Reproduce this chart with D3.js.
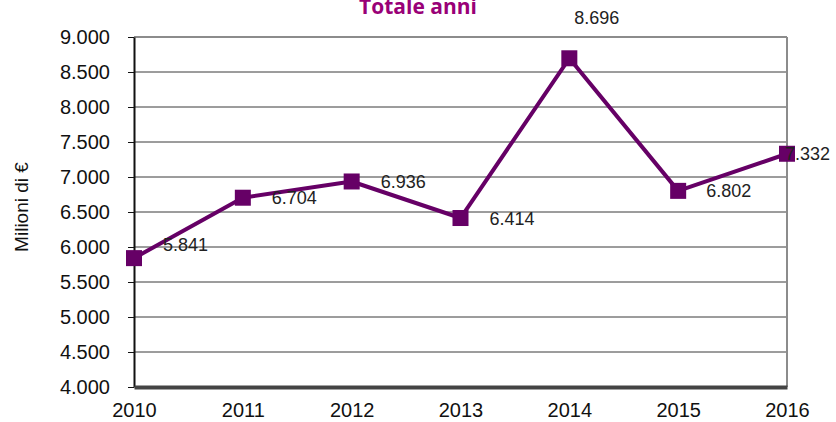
<!DOCTYPE html>
<html><head><meta charset="utf-8">
<script src="https://cdn.jsdelivr.net/npm/d3@7"></script>
<style>body{margin:0;background:#fff}svg{display:block}</style>
</head><body>
<svg id="c" width="836" height="422"></svg>
<script>
const years = ["2010","2011","2012","2013","2014","2015","2016"];
const values = [5841, 6704, 6936, 6414, 8696, 6802, 7332];
const yTicks = [4000,4500,5000,5500,6000,6500,7000,7500,8000,8500,9000];
const title = "Totale anni";
const yTitle = "Milioni di €";

const svg = d3.select("#c");
const W = 836, H = 422;
const m = {l:134, r:W-787, t:37, b:H-387};
const x = d3.scalePoint().domain(years).range([m.l, W-m.r]);
const y = d3.scaleLinear().domain([4000,9000]).range([H-m.b, m.t]);
const fmt = v => d3.format(",")(v).replace(/,/g,".");
const fmtT = v => d3.format(",.0f")(v).replace(/,/g,".");
const FF = "Liberation Sans, Arial, sans-serif";

// gridlines
svg.append("g").selectAll("line").data(yTicks.filter(t=>t>4000)).join("line")
  .attr("x1", m.l).attr("x2", W-m.r).attr("y1", d=>y(d)).attr("y2", d=>y(d))
  .attr("stroke", d=> d===9000 ? "#8c8c8c" : "#3a3a3a").attr("stroke-width", d=> d===9000 ? 2 : 1);
// right border
svg.append("line").attr("x1", W-m.r).attr("x2", W-m.r).attr("y1", m.t).attr("y2", H-m.b)
  .attr("stroke","#8c8c8c").attr("stroke-width",2);

// y axis
const ya = svg.append("g").attr("transform",`translate(${m.l},0)`)
  .call(d3.axisLeft(y).tickValues(yTicks).tickSize(6).tickSizeOuter(0).tickPadding(18).tickFormat(fmtT));
ya.select(".domain").attr("stroke","#111").attr("stroke-width",2);
ya.selectAll(".tick line").attr("stroke","#111");
ya.selectAll("text").attr("font-family",FF).attr("font-size",20).attr("fill","#111");

// x axis
const xa = svg.append("g").attr("transform",`translate(0,${H-m.b})`)
  .call(d3.axisBottom(x).tickSize(0));
xa.select(".domain").attr("stroke","#444").attr("stroke-width",4);
xa.selectAll("text").attr("font-family",FF).attr("font-size",20).attr("fill","#111")
  .attr("y",16).attr("dy","0.71em");

// line
const col = "#660066";
svg.append("path").datum(values)
  .attr("d", d3.line().x((d,i)=>x(years[i])).y(d=>y(d)))
  .attr("fill","none").attr("stroke",col).attr("stroke-width",4).attr("stroke-linejoin","round");

// markers
const ms = 16;
svg.append("g").selectAll("rect").data(values).join("rect")
  .attr("x",(d,i)=>x(years[i])-ms/2).attr("y",d=>y(d)-ms/2)
  .attr("width",ms).attr("height",ms).attr("fill",col);

// labels
const labelOff = [[29,-13],[29,0],[29,0],[29,1],[5,-40.5],[28,0],[-2,0]];
svg.append("g").selectAll("text").data(values).join("text")
  .attr("x",(d,i)=>x(years[i])+labelOff[i][0])
  .attr("y",(d,i)=>y(d)+labelOff[i][1])
  .attr("dy","0.35em")
  .attr("font-family",FF).attr("font-size",18).attr("fill","#222")
  .text(d=>fmt(d));

// title
svg.append("text").attr("x",418).attr("y",14).attr("text-anchor","middle")
  .attr("font-family","Open Sans, Liberation Sans, sans-serif").attr("font-weight","bold")
  .attr("font-size",21).attr("fill","#990077").text(title);

// y title
svg.append("text").attr("transform","translate(28,207) rotate(-90)").attr("text-anchor","middle")
  .attr("font-family",FF).attr("font-size",19).attr("fill","#111")
  .text(yTitle);
</script>
</body></html>
